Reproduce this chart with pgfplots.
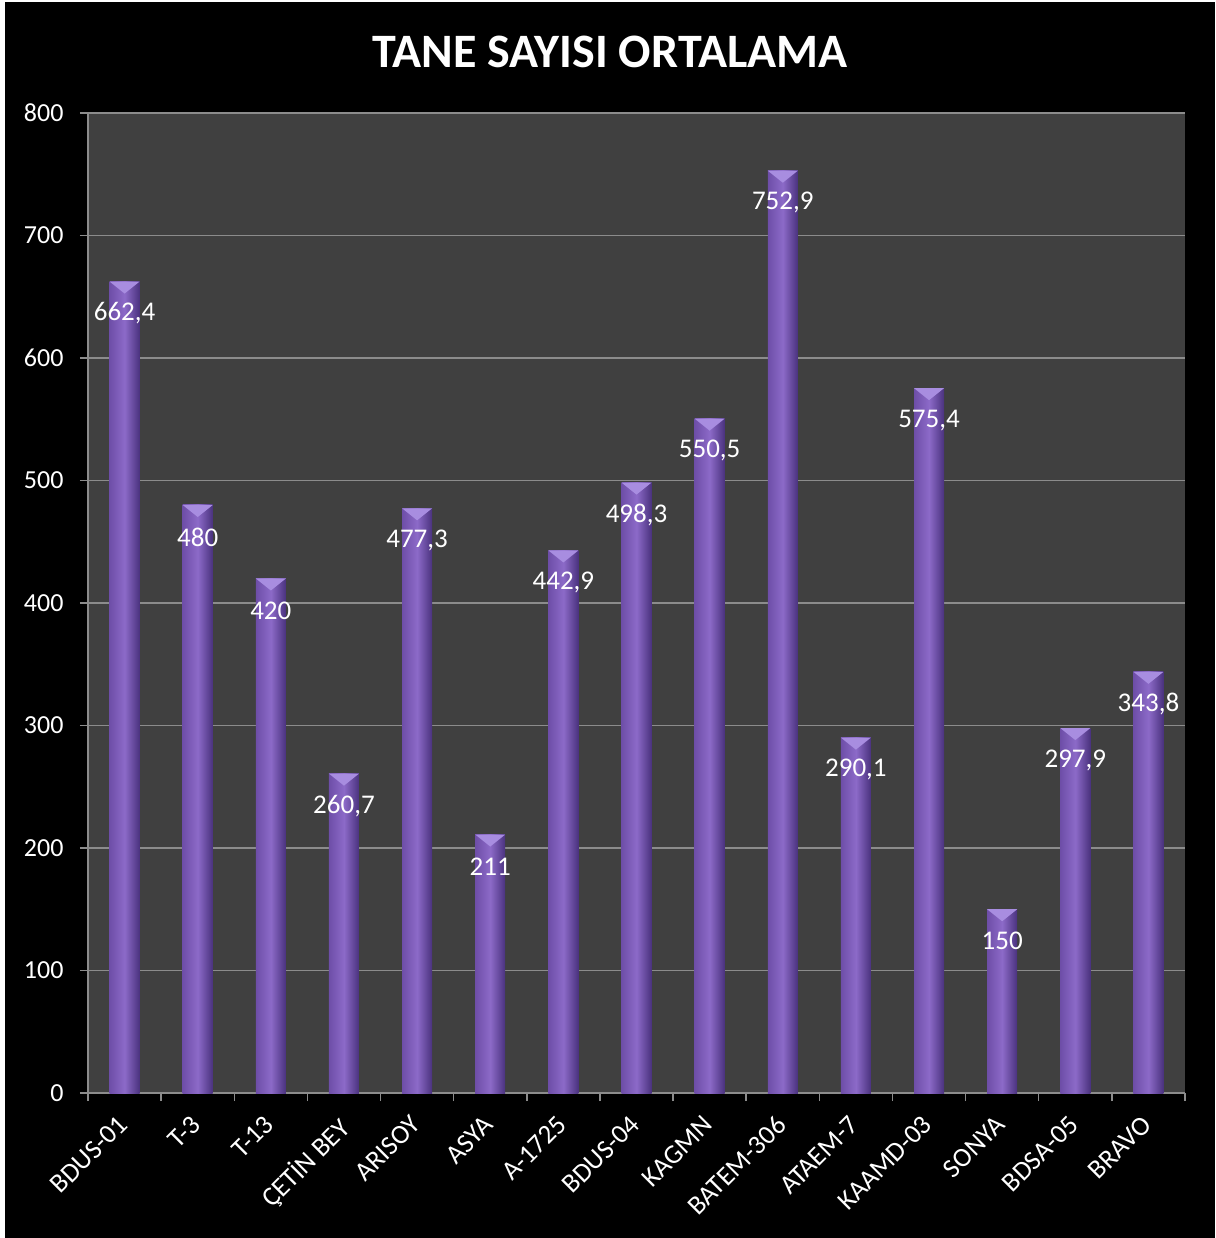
\documentclass[border=0pt]{standalone}
\usepackage{pgfplots}
\pgfplotsset{compat=1.18}
\usepackage{fontspec}
\setmainfont{Carlito}
\definecolor{plotgray}{HTML}{404040}
\definecolor{gridgray}{HTML}{8C8C8C}
\definecolor{barLeft}{HTML}{6E4EA8}
\definecolor{barRight}{HTML}{4A327E}
\definecolor{barMid}{HTML}{8C6AC8}
\definecolor{bevel}{HTML}{A88DE0}
\pgfdeclareplotmark{bevel}{%
  \pgfsetfillcolor{bevel}%
  \pgfpathmoveto{\pgfpoint{-15pt}{0pt}}%
  \pgfpathlineto{\pgfpoint{15pt}{0pt}}%
  \pgfpathlineto{\pgfpoint{0pt}{-12pt}}%
  \pgfpathclose
  \pgfusepathqfill}
\pgfplotsset{barstyle/.style={draw=none, left color=barLeft, right color=barRight, middle color=barMid,
  bar shift=0pt, mark=bevel, mark options={draw=none}}}
\begin{document}
\begin{tikzpicture}[x=1pt,y=1pt]
\useasboundingbox (-88,-145) rectangle (1127,1093);
\fill[white] (-88,-145) rectangle (1127,1093);
\fill[black] (-83,-145) rectangle (1127,1091);
\node[white, font=\fontsize{48}{52}\selectfont\bfseries] at (522,1041) {TANE SAYISI ORTALAMA};
\begin{axis}[
  at={(0,0)}, anchor=south west,
  scale only axis, width=1097pt, height=980pt,
  xmin=-0.5, xmax=14.5, ymin=0, ymax=800,
  ytick={0,100,...,800},
  xtick={0,...,14},
  xticklabels={BDUS-01,T-3,T-13,{ÇETİN BEY},ARISOY,ASYA,A-1725,BDUS-04,KAGMN,BATEM-306,ATAEM-7,KAAMD-03,SONYA,BDSA-05,BRAVO},
  minor xtick={-0.5,0.5,...,14.5},
  major x tick style={draw=none},
  tick align=outside,
  major tick length=8pt, minor tick length=8pt,
  tick style={gridgray, line width=1.5pt},
  axis x line*=bottom, axis y line*=left,
  axis line style={gridgray, line width=1.5pt, -},
  ymajorgrids, grid style={gridgray, line width=1.5pt},
  axis background/.style={fill=plotgray},
  /pgf/number format/assume math mode=true,
  ticklabel style={white, font=\fontsize{26}{30}\selectfont},
  xticklabel style={xshift=-8pt, yshift=-10pt, rotate=45, anchor=north east, inner sep=2pt, font=\fontsize{27}{30}\selectfont},
  yticklabel style={xshift=-13pt},
  ybar, bar width=30pt,
  nodes near coords style={white, font=\fontsize{27}{30}\selectfont, anchor=center, yshift=-32pt},
]
\addplot[barstyle, nodes near coords={662,4}] coordinates {(0,662.4)};
\addplot[barstyle, nodes near coords={480}] coordinates {(1,480)};
\addplot[barstyle, nodes near coords={420}] coordinates {(2,420)};
\addplot[barstyle, nodes near coords={260,7}] coordinates {(3,260.7)};
\addplot[barstyle, nodes near coords={477,3}] coordinates {(4,477.3)};
\addplot[barstyle, nodes near coords={211}] coordinates {(5,211)};
\addplot[barstyle, nodes near coords={442,9}] coordinates {(6,442.9)};
\addplot[barstyle, nodes near coords={498,3}] coordinates {(7,498.3)};
\addplot[barstyle, nodes near coords={550,5}] coordinates {(8,550.5)};
\addplot[barstyle, nodes near coords={752,9}] coordinates {(9,752.9)};
\addplot[barstyle, nodes near coords={290,1}] coordinates {(10,290.1)};
\addplot[barstyle, nodes near coords={575,4}] coordinates {(11,575.4)};
\addplot[barstyle, nodes near coords={150}] coordinates {(12,150)};
\addplot[barstyle, nodes near coords={297,9}] coordinates {(13,297.9)};
\addplot[barstyle, nodes near coords={343,8}] coordinates {(14,343.8)};
\end{axis}
\end{tikzpicture}
\end{document}
